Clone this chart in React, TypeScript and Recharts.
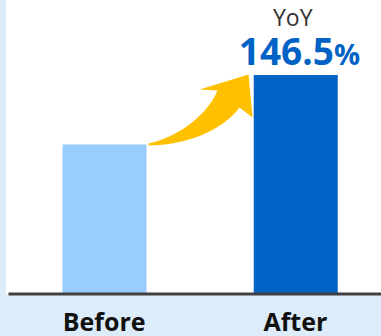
import { BarChart, Bar, XAxis, YAxis, Cell, LabelList } from "recharts"

const categories = ["Before", "After"]
const values = [100, 146.5]
const barColors = ["#99ccff", "#0062c4"]
const growthTitle = "YoY"
const growthValue = "146.5"

const data = categories.map((name, i) => ({ name, value: values[i] }))

const FONT = "'Open Sans', 'Noto Sans', sans-serif"

function CategoryTick(props: any) {
  const { x, y, payload } = props
  return (
    <text
      x={x}
      y={y}
      dy={37}
      textAnchor="middle"
      fontFamily={FONT}
      fontSize={25}
      fontWeight={700}
      fill="#111"
    >
      {payload.value}
    </text>
  )
}

// arrow for the first bar, growth label for the second
function BarNotes(props: any) {
  const { x, y, width, index } = props
  if (index === 0) {
    const sx = x + width
    const sy = y
    const p = (dx: number, dy: number) => `${sx + dx},${sy + dy}`
    const d =
      `M${p(2, -1)} C${p(24, -5)} ${p(59, -25)} ${p(71, -54)} ` +
      `L${p(53, -55)} L${p(102, -70)} L${p(106, -27)} L${p(93, -37)} ` +
      `C${p(76, -14)} ${p(39, 1)} ${p(2, 1)} Z`
    return <path d={d} fill="#ffc000" />
  }
  if (index === 1) {
    const cx = x + width / 2
    return (
      <g fontFamily={FONT}>
        <text x={cx - 3} y={y - 49} textAnchor="middle" fontSize={23} fill="#333">
          {growthTitle}
        </text>
        <text x={x - 15} y={y - 10} textAnchor="start" fill="#0062c4" fontWeight={700}>
          <tspan fontSize={37}>{growthValue}</tspan>
          <tspan fontSize={29}>%</tspan>
        </text>
      </g>
    )
  }
  return null
}

export default function App() {
  return (
    <div
      style={{
        position: "absolute",
        left: 0,
        top: 0,
        width: 381,
        height: 336,
        overflow: "hidden",
        background: "#dcecf8",
      }}
    >
      <div
        style={{
          position: "absolute",
          left: 6,
          top: 0,
          right: 0,
          height: 294,
          background: "#fff",
        }}
      />
      <div style={{ position: "absolute", left: 0, top: 0 }}>
        <BarChart
          width={391}
          height={336}
          data={data}
          margin={{ top: 25, right: 0, bottom: 0, left: 8.5 }}
        >
          <XAxis
            dataKey="name"
            height={42}
            axisLine={{ stroke: "#404040", strokeWidth: 3 }}
            tickLine={false}
            tickSize={0}
            tickMargin={0}
            tick={<CategoryTick />}
            interval={0}
          />
          <YAxis hide domain={[0, 180]} />
          <Bar dataKey="value" barSize={84} isAnimationActive={false}>
            {data.map((d, i) => (
              <Cell key={d.name} fill={barColors[i]} />
            ))}
            <LabelList dataKey="value" content={<BarNotes />} />
          </Bar>
        </BarChart>
      </div>
    </div>
  )
}
